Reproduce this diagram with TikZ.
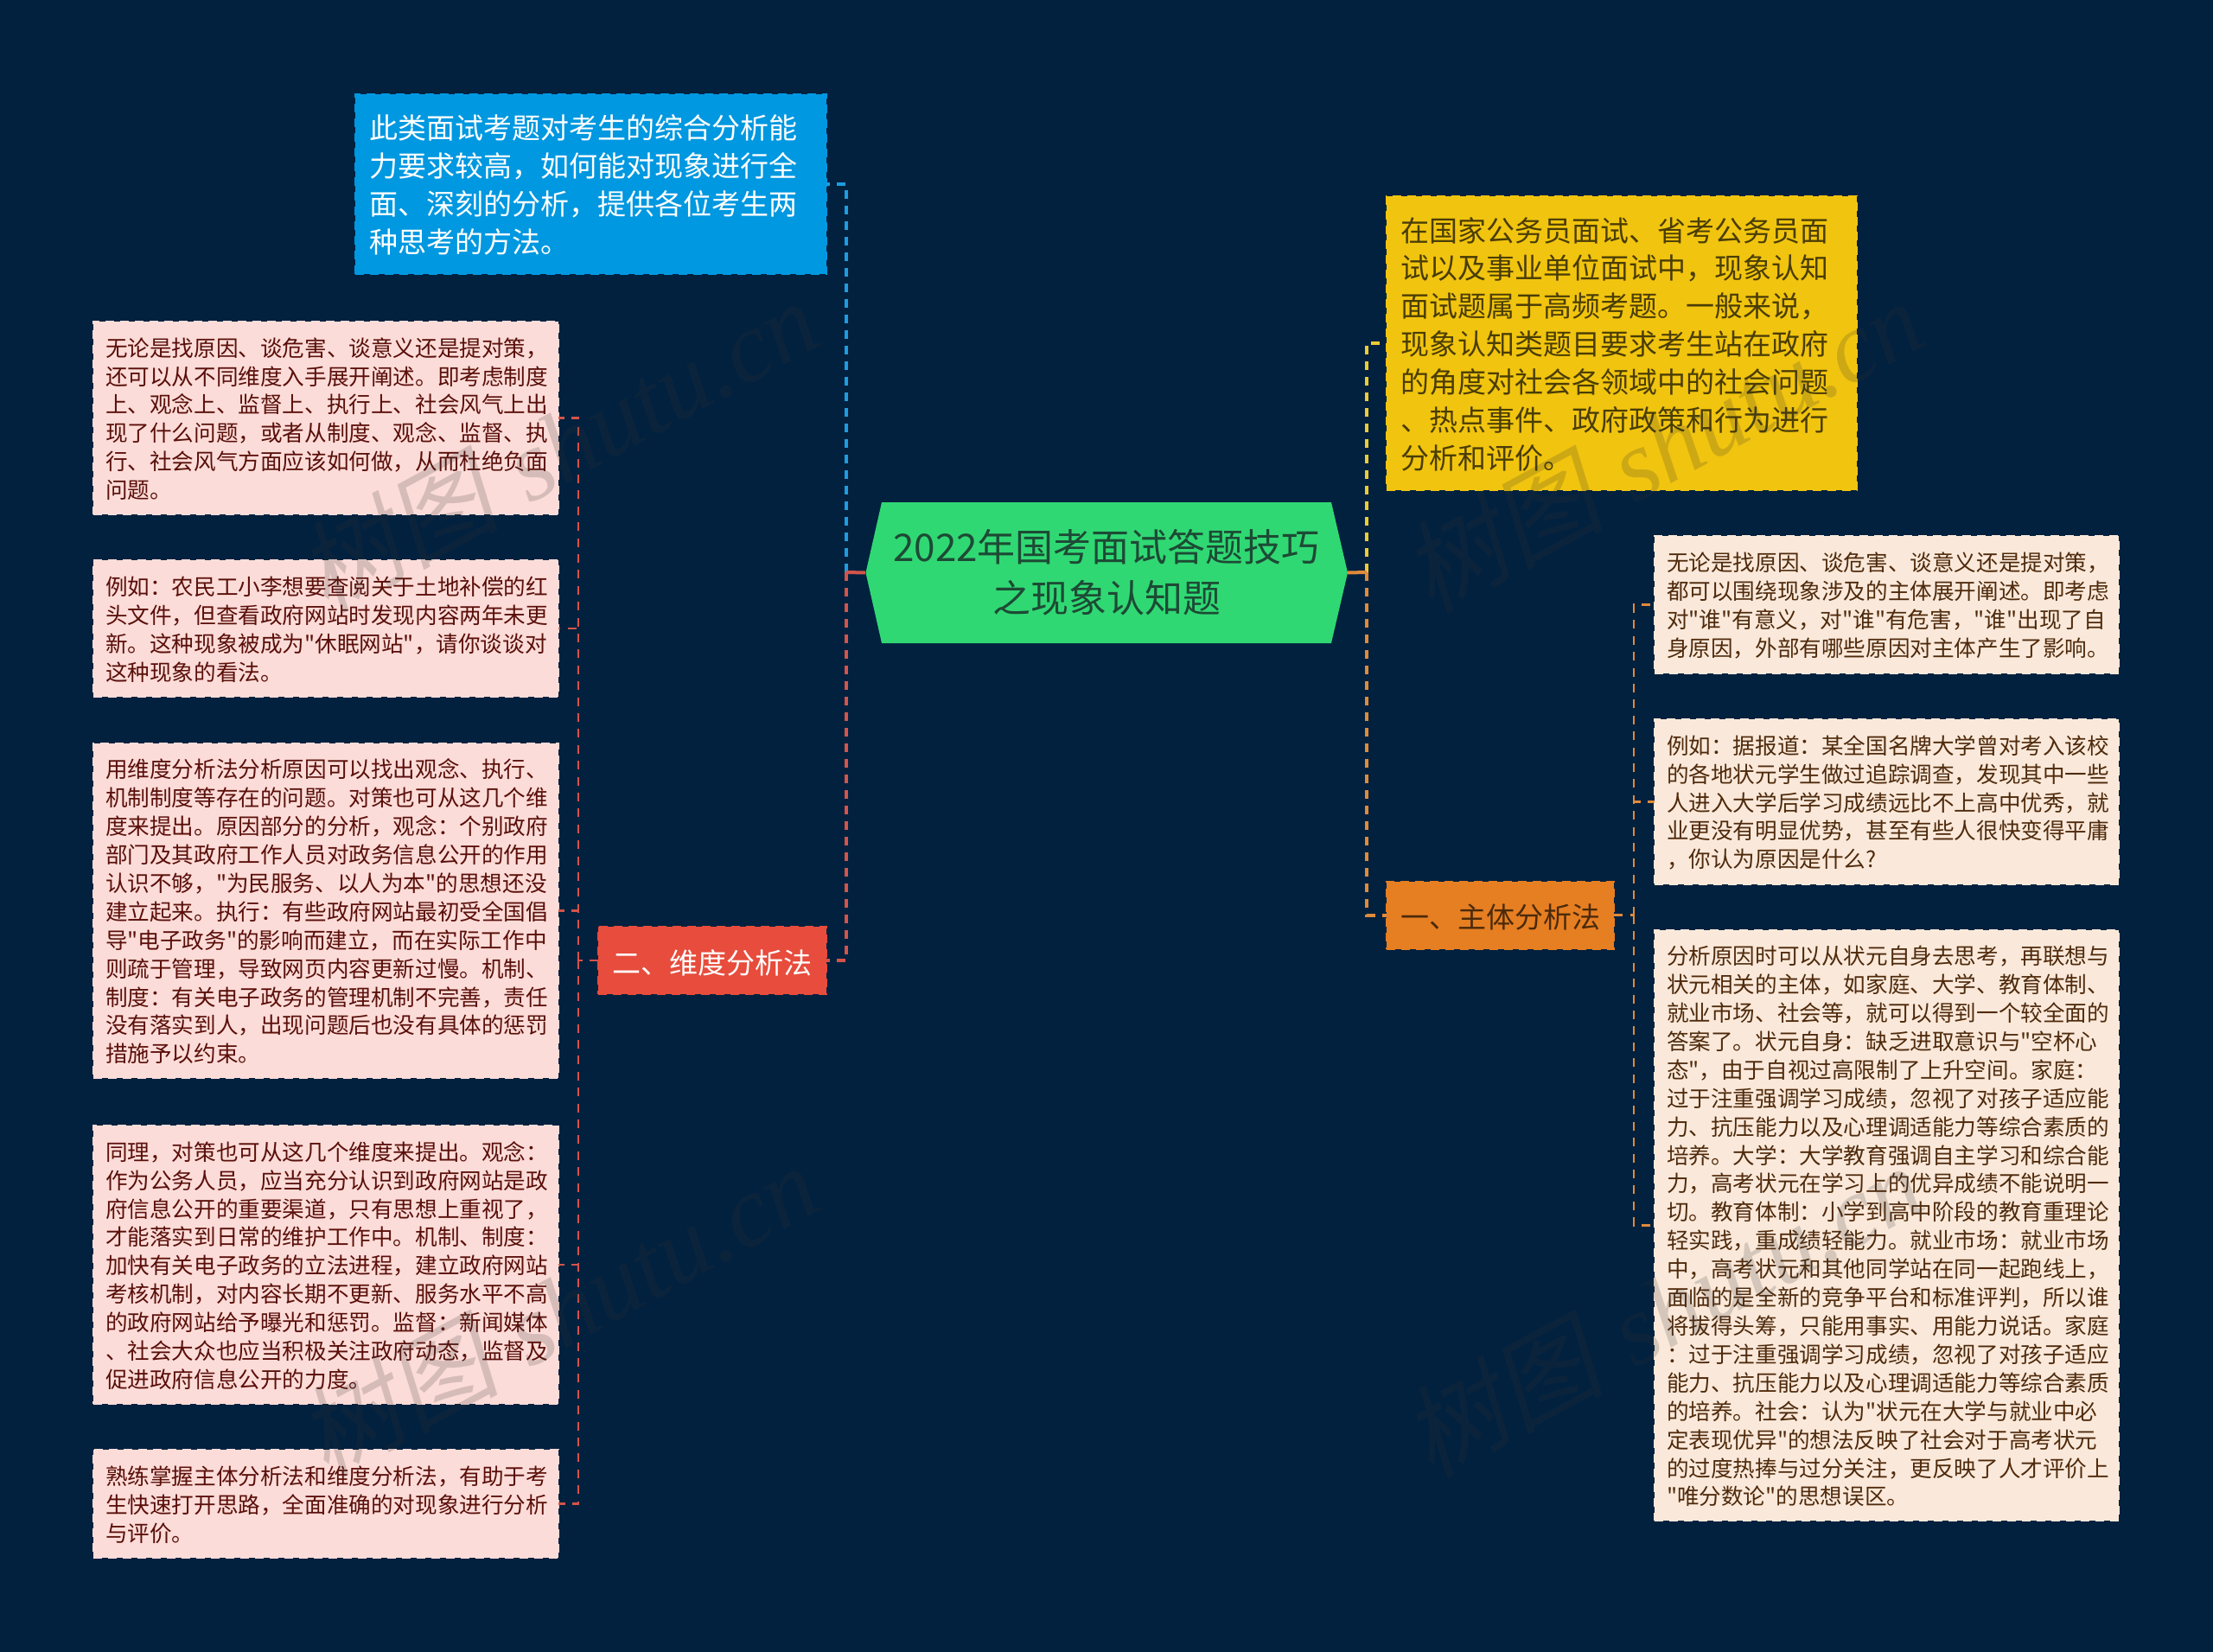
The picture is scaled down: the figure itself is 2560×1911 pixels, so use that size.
\documentclass[tikz,border=0pt]{standalone}
\usepackage{fontspec}
\newfontfamily\cjkf{Noto Sans CJK SC}
\newfontfamily\wmcjk[FakeSlant=0.2]{Noto Sans CJK SC}
\newfontfamily\wmlat{Liberation Serif}
\definecolor{bgc}{HTML}{02213F}
\definecolor{rootc}{HTML}{30D873}
\definecolor{roottx}{HTML}{1D4A35}
\definecolor{bluec}{HTML}{0098E0}
\definecolor{bluel}{HTML}{1E9CE0}
\definecolor{yelc}{HTML}{F1C40F}
\definecolor{yell}{HTML}{EDCB35}
\definecolor{yeltx}{HTML}{4A3D05}
\definecolor{orc}{HTML}{E67E22}
\definecolor{orl}{HTML}{E08A3A}
\definecolor{ortx}{HTML}{4A2A0A}
\definecolor{redc}{HTML}{E74C3C}
\definecolor{redl}{HTML}{D4544A}
\definecolor{pinkc}{HTML}{FCDCD8}
\definecolor{pinktx}{HTML}{5A0F0A}
\definecolor{peachc}{HTML}{FAE9DA}
\definecolor{peachtx}{HTML}{4F2A0C}
\definecolor{wmc}{HTML}{333333}
\tikzset{
  anybox/.style={rectangle,inner sep=0pt,outer sep=0pt,line width=1pt,dash pattern=on 5pt off 3.5pt},
  bigbox/.style={anybox,font=\cjkf\fontsize{16.5}{21.95}\selectfont,align=left,execute at begin node={\rule{0pt}{15.2pt}}},
  smallbox/.style={anybox,font=\cjkf\fontsize{12.8}{16.45}\selectfont,align=left,execute at begin node={\rule{0pt}{11.9pt}}},
  pinkbox/.style={smallbox,fill=pinkc,draw=pinkc,text=pinktx,minimum width=269pt,text width=255pt},
  peachbox/.style={smallbox,fill=peachc,draw=peachc,text=peachtx,minimum width=268.5pt,text width=254.5pt},
  branchbox/.style={anybox,font=\cjkf\fontsize{16.5}{20}\selectfont,align=center,minimum height=39pt,execute at begin node={\rule{0pt}{16.4pt}}},
  mainline/.style={line width=2pt,dash pattern=on 5pt off 4pt},
  subline/.style={line width=1.2pt,dash pattern=on 5pt off 4.2pt},
  rootstub/.style={line width=2pt},
  wmtext/.style={text=wmc,text opacity=.19,rotate=28.5,font=\fontsize{58}{58}\selectfont}
}
\newcommand{\wmstr}{{\wmcjk 树图} {\wmlat\itshape shutu.cn}}
\begin{document}
\begin{tikzpicture}[x=0.5pt,y=-0.5pt]
\useasboundingbox (0,0) rectangle (2560,1911);
\fill[bgc] (0,0) rectangle (2560,1911);
% junctions
\coordinate (jl) at (979,662);
\coordinate (jr) at (1581,662);
\coordinate (jred) at (669,1111);
\coordinate (jor) at (1890,1058.5);
% root
\fill[rootc] (1001.5,662.5) -- (1020,581) -- (1540,581) -- (1559,662.5) -- (1540,744) -- (1020,744) -- cycle;
\node[rectangle,inner sep=0pt,outer sep=0pt,minimum width=279pt,minimum height=81.5pt,text=roottx,align=center,font=\cjkf\fontsize{22}{29.25}\selectfont] (root) at (1280,662.5) {2022年国考面试答题技巧\\之现象认知题};
% big boxes
\node[bigbox,fill=bluec,draw=bluec,text=white,minimum width=272.5pt,minimum height=104pt,text width=256.5pt] (blue) at (683.5,213) {此类面试考题对考生的综合分析能\\力要求较高，如何能对现象进行全\\面、深刻的分析，提供各位考生两\\种思考的方法。};
\node[bigbox,fill=yelc,draw=yelc,text=yeltx,minimum width=272pt,minimum height=170pt,text width=256pt] (yel) at (1876,397) {在国家公务员面试、省考公务员面\\试以及事业单位面试中，现象认知\\面试题属于高频考题。一般来说，\\现象认知类题目要求考生站在政府\\的角度对社会各领域中的社会问题\\、热点事件、政府政策和行为进行\\分析和评价。};
\node[branchbox,fill=redc,draw=redc,text=white,minimum width=132pt] (red) at (824,1111) {二、维度分析法};
\node[branchbox,fill=orc,draw=orc,text=ortx,minimum width=131.5pt] (or) at (1735.75,1058.5) {一、主体分析法};
% left leaves
\node[pinkbox,minimum height=111.5pt] (l1) at (377,483.5) {无论是找原因、谈危害、谈意义还是提对策，\\还可以从不同维度入手展开阐述。即考虑制度\\上、观念上、监督上、执行上、社会风气上出\\现了什么问题，或者从制度、观念、监督、执\\行、社会风气方面应该如何做，从而杜绝负面\\问题。};
\node[pinkbox,minimum height=79pt] (l2) at (377,727) {例如：农民工小李想要查阅关于土地补偿的红\\头文件，但查看政府网站时发现内容两年未更\\新。这种现象被成为"休眠网站"，请你谈谈对\\这种现象的看法。};
\node[pinkbox,minimum height=193.5pt] (l3) at (377,1053.5) {用维度分析法分析原因可以找出观念、执行、\\机制制度等存在的问题。对策也可从这几个维\\度来提出。原因部分的分析，观念：个别政府\\部门及其政府工作人员对政务信息公开的作用\\认识不够，"为民服务、以人为本"的思想还没\\建立起来。执行：有些政府网站最初受全国倡\\导"电子政务"的影响而建立，而在实际工作中\\则疏于管理，导致网页内容更新过慢。机制、\\制度：有关电子政务的管理机制不完善，责任\\没有落实到人，出现问题后也没有具体的惩罚\\措施予以约束。};
\node[pinkbox,minimum height=161pt] (l4) at (377,1463) {同理，对策也可从这几个维度来提出。观念：\\作为公务人员，应当充分认识到政府网站是政\\府信息公开的重要渠道，只有思想上重视了，\\才能落实到日常的维护工作中。机制、制度：\\加快有关电子政务的立法进程，建立政府网站\\考核机制，对内容长期不更新、服务水平不高\\的政府网站给予曝光和惩罚。监督：新闻媒体\\、社会大众也应当积极关注政府动态，监督及\\促进政府信息公开的力度。};
\node[pinkbox,minimum height=62.5pt] (l5) at (377,1739.5) {熟练掌握主体分析法和维度分析法，有助于考\\生快速打开思路，全面准确的对现象进行分析\\与评价。};
% right leaves
\node[peachbox,minimum height=79.5pt] (r1) at (2182.5,699.5) {无论是找原因、谈危害、谈意义还是提对策，\\都可以围绕现象涉及的主体展开阐述。即考虑\\对"谁"有意义，对"谁"有危害，"谁"出现了自\\身原因，外部有哪些原因对主体产生了影响。};
\node[peachbox,minimum height=95.5pt] (r2) at (2182.5,927.5) {例如：据报道：某全国名牌大学曾对考入该校\\的各地状元学生做过追踪调查，发现其中一些\\人进入大学后学习成绩远比不上高中优秀，就\\业更没有明显优势，甚至有些人很快变得平庸\\，你认为原因是什么?};
\node[peachbox,minimum height=341.5pt] (r3) at (2182.5,1417.5) {分析原因时可以从状元自身去思考，再联想与\\状元相关的主体，如家庭、大学、教育体制、\\就业市场、社会等，就可以得到一个较全面的\\答案了。状元自身：缺乏进取意识与"空杯心\\态"，由于自视过高限制了上升空间。家庭：\\过于注重强调学习成绩，忽视了对孩子适应能\\力、抗压能力以及心理调适能力等综合素质的\\培养。大学：大学教育强调自主学习和综合能\\力，高考状元在学习上的优异成绩不能说明一\\切。教育体制：小学到高中阶段的教育重理论\\轻实践，重成绩轻能力。就业市场：就业市场\\中，高考状元和其他同学站在同一起跑线上，\\面临的是全新的竞争平台和标准评判，所以谁\\将拔得头筹，只能用事实、用能力说话。家庭\\：过于注重强调学习成绩，忽视了对孩子适应\\能力、抗压能力以及心理调适能力等综合素质\\的培养。社会：认为"状元在大学与就业中必\\定表现优异"的想法反映了社会对于高考状元\\的过度热捧与过分关注，更反映了人才评价上\\"唯分数论"的思想误区。};
% connectors, root level
\draw[mainline,bluel] (jl) |- (blue.east);
\draw[mainline,redl] (jl) |- (red.east);
\draw[mainline,yell] (jr) |- (yel.west);
\draw[mainline,orl] (jr) |- (or.west);
\draw[rootstub,redl] (root.west) -- (jl);
\draw[rootstub,orl] (root.east) -- (jr);
% connectors, red branch
\draw[subline,redl] (red.west) -- (jred);
\foreach \t in {l1,l2,l3,l4,l5} \draw[subline,redl] (jred) |- (\t.east);
% connectors, orange branch
\draw[subline,orl] (or.east) -- (jor);
\foreach \t in {r1,r2,r3} \draw[subline,orl] (jor) |- (\t.west);
% watermark
\node[wmtext] (wm1) at (645,515) {\wmstr};
\node[wmtext] (wm2) at (1923,515) {\wmstr};
\node[wmtext] (wm3) at (645,1515) {\wmstr};
\node[wmtext] (wm4) at (1923,1515) {\wmstr};
\end{tikzpicture}
\end{document}
